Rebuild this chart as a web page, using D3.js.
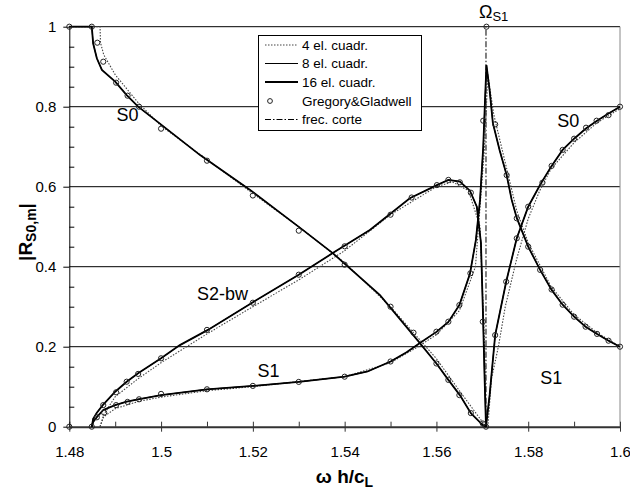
<!DOCTYPE html>
<html><head><meta charset="utf-8">
<script src="https://cdn.jsdelivr.net/npm/d3@7"></script>
<style>
body{margin:0;background:#fff}
svg{display:block}
text{font-family:Arial,"Liberation Sans",sans-serif;fill:#000}
</style>
</head><body>
<svg id="c" width="630" height="493"></svg>
<script>
// ---------- data ----------
const xTicks = [1.48, 1.5, 1.52, 1.54, 1.56, 1.58, 1.6];
const xTickLabels = ["1.48", "1.5", "1.52", "1.54", "1.56", "1.58", "1.6"];
const xMinor = [1.49, 1.51, 1.53, 1.55, 1.57, 1.59];
const yTicks = [0, 0.2, 0.4, 0.6, 0.8, 1];
const yTickLabels = ["0", "0.2", "0.4", "0.6", "0.8", "1"];
const yMinor = [0.05,0.1,0.15,0.25,0.3,0.35,0.45,0.5,0.55,0.65,0.7,0.75,0.85,0.9,0.95];
const cutoffFreq = 1.5708;

// 16 el. cuadr. (8 el. practically identical)
const s0Left = [[1.48,1],[1.4849,1],[1.4852,0.958],[1.486,0.921],[1.4871,0.892],[1.49,0.8625],[1.4925,0.829],[1.495,0.80],[1.4987,0.767],[1.5085,0.679],[1.5194,0.592],[1.5303,0.497],[1.5374,0.434],[1.5477,0.329],[1.5564,0.209],[1.56,0.158],[1.5626,0.117],[1.5651,0.079],[1.5675,0.034],[1.5701,0.004],[1.5708,0]];
const s2bw = [[1.4849,0],[1.4852,0.02],[1.486,0.035],[1.4873,0.054],[1.49,0.0875],[1.4925,0.1125],[1.495,0.1335],[1.5,0.171],[1.5041,0.204],[1.5102,0.242],[1.5194,0.307],[1.53,0.38],[1.5374,0.434],[1.5455,0.492],[1.5542,0.571],[1.5601,0.604],[1.5626,0.617],[1.5651,0.613],[1.5673,0.59],[1.5688,0.55],[1.5697,0.46],[1.5701,0.3],[1.5705,0.12],[1.5708,0]];
const s1 = [[1.4849,0],[1.4852,0.012],[1.486,0.024],[1.4874,0.042],[1.49,0.054],[1.4925,0.0625],[1.495,0.0685],[1.5,0.079],[1.51,0.0935],[1.52,0.102],[1.53,0.112],[1.54,0.125],[1.545,0.138],[1.55,0.163],[1.5535,0.186],[1.5564,0.209],[1.56,0.237],[1.5626,0.262],[1.565,0.304],[1.5673,0.382],[1.5686,0.467],[1.5695,0.567],[1.5702,0.70],[1.5706,0.82],[1.5709,0.904],[1.5716,0.84],[1.5723,0.759],[1.5738,0.69],[1.5753,0.629],[1.5764,0.567],[1.5775,0.522],[1.58,0.45],[1.5826,0.392],[1.5851,0.342],[1.5875,0.305],[1.59,0.275],[1.5925,0.25],[1.595,0.232],[1.5975,0.215],[1.6,0.2]];
const s0Right = [[1.5708,0],[1.5716,0.08],[1.5728,0.229],[1.5752,0.3625],[1.5775,0.471],[1.58,0.55],[1.5826,0.605],[1.5851,0.652],[1.5875,0.692],[1.59,0.72],[1.5925,0.745],[1.595,0.765],[1.5975,0.783],[1.6,0.8]];

// 4 el. cuadr.
const s0Left4 = [[1.48,1],[1.4867,1],[1.4868,0.96],[1.4875,0.93],[1.49,0.88],[1.495,0.81],[1.5,0.752],[1.51,0.668],[1.52,0.583],[1.53,0.5],[1.54,0.41],[1.55,0.3],[1.56,0.17],[1.565,0.09],[1.5695,0.02],[1.5708,0]];
const s2bw4 = [[1.4867,0],[1.4875,0.03],[1.49,0.075],[1.495,0.12],[1.5,0.16],[1.51,0.232],[1.52,0.3],[1.53,0.367],[1.54,0.44],[1.55,0.53],[1.56,0.6],[1.5635,0.612],[1.567,0.59],[1.5695,0.5],[1.5705,0.2],[1.5708,0]];
const s14 = [[1.4867,0],[1.4875,0.025],[1.49,0.045],[1.495,0.063],[1.5,0.074],[1.51,0.09],[1.52,0.1],[1.53,0.113],[1.54,0.125],[1.55,0.16],[1.556,0.2],[1.56,0.23],[1.565,0.29],[1.5685,0.4],[1.5705,0.7],[1.5712,0.88],[1.5725,0.78],[1.575,0.66],[1.5775,0.54],[1.58,0.46],[1.585,0.35],[1.59,0.28],[1.595,0.235],[1.6,0.2]];
const s0Right4 = [[1.5712,0],[1.572,0.12],[1.5735,0.2],[1.575,0.3],[1.5775,0.42],[1.58,0.52],[1.5825,0.59],[1.585,0.645],[1.59,0.71],[1.595,0.76],[1.6,0.795]];

// Gregory & Gladwell
const ggPoints = [[1.48,1],[1.4849,1],[1.4861,0.96],[1.4874,0.9125],[1.4902,0.86],[1.4927,0.8275],[1.4952,0.80],[1.50,0.745],[1.51,0.665],[1.52,0.578],[1.53,0.49],[1.54,0.405],[1.55,0.3],[1.555,0.235],[1.56,0.158],[1.5626,0.117],[1.565,0.079],[1.5675,0.034],[1.5701,0.008],
 [1.48,0],[1.4849,0],[1.4874,0.054],[1.4902,0.086],[1.4925,0.1125],[1.495,0.132],[1.5,0.171],[1.51,0.242],[1.52,0.31],[1.53,0.38],[1.54,0.451],[1.55,0.53],[1.5546,0.573],[1.5601,0.604],[1.5626,0.617],[1.5651,0.611],[1.5675,0.585],[1.5701,0.2625],
 [1.486,0.0235],[1.4876,0.035],[1.4902,0.054],[1.4927,0.062],[1.4952,0.0685],[1.5,0.082],[1.51,0.0935],[1.52,0.102],[1.53,0.112],[1.54,0.125],[1.55,0.163],[1.56,0.2375],[1.5626,0.2625],[1.565,0.304],[1.5674,0.3835],[1.5702,0.765],
 [1.5728,0.756],[1.5753,0.629],[1.5775,0.521],[1.58,0.45],[1.5826,0.392],[1.5851,0.343],[1.5875,0.305],[1.59,0.275],[1.5925,0.25],[1.595,0.232],[1.5975,0.215],[1.6,0.2],
 [1.5728,0.229],[1.5752,0.3625],[1.5775,0.471],[1.58,0.55],[1.5831,0.61],[1.5851,0.652],[1.5875,0.692],[1.59,0.72],[1.5926,0.7475],[1.5949,0.765],[1.5975,0.779],[1.6,0.8],
 [1.5709,1],[1.5708,0]];

const legendLabels = ["4 el. cuadr.", "8 el. cuadr.", "16 el. cuadr.", "Gregory&Gladwell", "frec. corte"];
const curveLabels = [
  {t:"S0", w:1.4903, r:0.765},
  {t:"S2-bw", w:1.5078, r:0.317},
  {t:"S1", w:1.5210, r:0.124},
  {t:"S1", w:1.5826, r:0.108},
  {t:"S0", w:1.5863, r:0.75}
];

// ---------- drawing ----------
const svg = d3.select("#c");
const x = d3.scaleLinear().domain([1.48, 1.6]).range([69.3, 620]);
const y = d3.scaleLinear().domain([0, 1]).range([426.7, 26.7]);

// gridlines
svg.append("g").selectAll("line").data(yTicks.filter(d=>d>0)).join("line")
  .attr("x1", x(1.48)).attr("x2", x(1.6)).attr("y1", d=>y(d)).attr("y2", d=>y(d))
  .attr("stroke", "#000").attr("stroke-width", 1);
// right border
svg.append("line").attr("x1", x(1.6)).attr("x2", x(1.6)).attr("y1", y(1)).attr("y2", y(0))
  .attr("stroke", "#888").attr("stroke-width", 1);

// axes
const xAxis = svg.append("g").attr("transform", `translate(0,${y(0)})`)
  .call(d3.axisBottom(x).tickValues(xTicks).tickFormat((d,i)=>xTickLabels[i]).tickSizeInner(5).tickSizeOuter(0));
xAxis.select(".domain").attr("stroke", "#333").attr("stroke-width", 2);
xAxis.selectAll(".tick line").attr("y1", -5).attr("y2", 5).attr("stroke", "#333");
xAxis.selectAll(".tick text").attr("y", 30).attr("dy", null).attr("font-size", 15).attr("font-family", "Arial, 'Liberation Sans', sans-serif").attr("fill", "#000");
const xAxisMinor = svg.append("g").attr("transform", `translate(0,${y(0)})`)
  .call(d3.axisBottom(x).tickValues(xMinor).tickFormat("").tickSizeInner(-5).tickSizeOuter(0));
xAxisMinor.select(".domain").remove();
xAxisMinor.selectAll(".tick line").attr("stroke", "#333");

const yAxis = svg.append("g").attr("transform", `translate(${x(1.48)},0)`)
  .call(d3.axisLeft(y).tickValues(yTicks).tickFormat((d,i)=>yTickLabels[i]).tickSizeInner(6).tickSizeOuter(0));
yAxis.select(".domain").attr("stroke", "#000").attr("stroke-width", 1);
yAxis.selectAll(".tick line").attr("stroke", "#000");
yAxis.selectAll(".tick text").attr("x", -13).attr("font-size", 15).attr("font-family", "Arial, 'Liberation Sans', sans-serif").attr("fill", "#000");
const yAxisMinor = svg.append("g").attr("transform", `translate(${x(1.48)},0)`)
  .call(d3.axisLeft(y).tickValues(yMinor).tickFormat("").tickSizeInner(-5).tickSizeOuter(0));
yAxisMinor.select(".domain").remove();
yAxisMinor.selectAll(".tick line").attr("stroke", "#000");

const line = d3.line().x(d=>x(d[0])).y(d=>y(d[1]));
const gCurves = svg.append("g").attr("fill", "none");

// cutoff frequency
gCurves.append("path").attr("d", line([[cutoffFreq,0],[cutoffFreq,1]]))
  .attr("stroke", "#000").attr("stroke-width", 1).attr("stroke-dasharray", "6,2,1.5,2");

// 4 el
[s0Left4, s2bw4, s14, s0Right4].forEach(s => gCurves.append("path").attr("d", line(s))
  .attr("stroke", "#444").attr("stroke-width", 1.1).attr("stroke-dasharray", "1.5,1.5"));
// 16 el
[s0Left, s2bw, s1, s0Right].forEach(s => gCurves.append("path").attr("d", line(s))
  .attr("stroke", "#000").attr("stroke-width", 1.8));
// 8 el
[s0Left, s2bw, s1, s0Right].forEach(s => gCurves.append("path").attr("d", line(s))
  .attr("stroke", "#000").attr("stroke-width", 1));

// G&G circles
svg.append("g").selectAll("circle").data(ggPoints).join("circle")
  .attr("cx", d=>x(d[0])).attr("cy", d=>y(d[1])).attr("r", 2.6)
  .attr("fill", "none").attr("stroke", "#222").attr("stroke-width", 1);

// curve labels
svg.append("g").selectAll("text").data(curveLabels).join("text")
  .attr("x", d=>x(d.w)).attr("y", d=>y(d.r)).attr("font-size", 18).text(d=>d.t);

// Omega label
const om = svg.append("text").attr("x", x(cutoffFreq) - 7).attr("y", 18).attr("font-size", 18);
om.append("tspan").text("Ω");
om.append("tspan").attr("font-size", 13).attr("dy", 3).text("S1");

// legend
const lg = svg.append("g");
lg.append("rect").attr("x", 258.5).attr("y", 35.5).attr("width", 163).attr("height", 95)
  .attr("fill", "#fff").attr("stroke", "#000").attr("stroke-width", 1);
const rowY = [45, 63.5, 82, 101, 119.5];
const styles = [
  {stroke:"#444", w:1.1, dash:"1.5,1.5"},
  {stroke:"#000", w:1, dash:null},
  {stroke:"#000", w:1.8, dash:null},
  null,
  {stroke:"#000", w:1, dash:"6,2,1.5,2"}
];
legendLabels.forEach((t,i) => {
  if (styles[i]) {
    lg.append("line").attr("x1", 265).attr("x2", 298).attr("y1", rowY[i]).attr("y2", rowY[i])
      .attr("stroke", styles[i].stroke).attr("stroke-width", styles[i].w).attr("stroke-dasharray", styles[i].dash);
  } else {
    lg.append("circle").attr("cx", 270).attr("cy", rowY[i]).attr("r", 2.4).attr("fill", "none").attr("stroke", "#222");
  }
  lg.append("text").attr("x", 302).attr("y", rowY[i]).attr("dy", "0.35em").attr("font-size", 13.5).text(t);
});

// axis titles
const xt = svg.append("text").attr("x", 344.5).attr("y", 483).attr("text-anchor", "middle")
  .attr("font-size", 19).attr("font-weight", "bold");
xt.append("tspan").text("ω h/c");
xt.append("tspan").attr("font-size", 14).attr("dy", 4).text("L");

const yt = svg.append("text").attr("transform", "translate(32,232) rotate(-90)").attr("text-anchor", "middle")
  .attr("font-size", 19).attr("font-weight", "bold");
yt.append("tspan").text("|R");
yt.append("tspan").attr("font-size", 14).attr("dy", 4).text("S0,m");
yt.append("tspan").attr("dy", -4).text("|");
</script>
</body></html>
